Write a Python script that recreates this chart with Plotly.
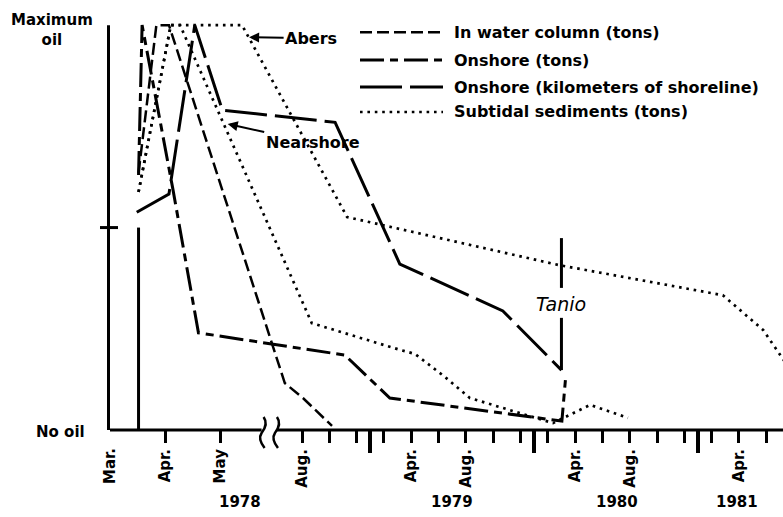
import calendar
import plotly.graph_objects as go

# relative amount of oil, 0 = no oil, 1 = maximum oil
water_dates = ["1978-03-17", "1978-03-27", "1978-04-03", "1978-06-23", "1978-08-03", "1978-10-07"]
water_vals = [0.635, 1.0, 1.0, 0.116, 0.079, 0.01]

onshore_tons_dates = ["1978-03-17", "1978-03-19", "1978-04-05", "1978-04-19", "1978-11-05",
                      "1979-02-13", "1980-03-02", "1980-03-10"]
onshore_tons_vals = [0.63, 1.0, 0.598, 0.24, 0.185, 0.079, 0.022, 0.123]

onshore_km_dates = ["1978-03-16", "1978-04-03", "1978-04-17", "1978-05-02", "1978-10-14",
                    "1979-03-06", "1979-10-23", "1980-03-01"]
onshore_km_vals = [0.538, 0.583, 1.0, 0.79, 0.76, 0.41, 0.294, 0.148]

# subtidal sediments, two sites
abers_dates = ["1978-03-17", "1978-04-04", "1978-05-13", "1978-11-10", "1980-02-26",
               "1981-02-24", "1981-05-25", "1981-07-24"]
abers_vals = [0.588, 1.0, 1.0, 0.526, 0.407, 0.333, 0.247, 0.15]

nearshore_dates = ["1978-03-17", "1978-04-04", "1978-04-09", "1978-08-23", "1979-03-06",
                   "1979-04-09", "1979-06-15", "1979-08-10", "1980-02-12", "1980-03-11",
                   "1980-05-04", "1980-07-28"]
nearshore_vals = [0.588, 1.0, 1.0, 0.264, 0.198, 0.188, 0.131, 0.079, 0.017, 0.032, 0.062, 0.03]

# spill markers (Amoco Cadiz, then Tanio)
spill_date = "1978-03-17"
spill_vals = [0, 0.5]
tanio_date = "1980-03-01"
tanio_vals = [0.474, 0.351, None, 0.277, 0.148]

tick_dates = ["1978-04-01", "1978-05-01", "1978-08-01", "1978-10-01", "1978-12-01", "1979-02-01",
              "1979-04-01", "1979-06-01", "1979-08-01", "1979-10-01", "1979-12-01", "1980-02-01",
              "1980-04-01", "1980-06-01", "1980-08-01", "1980-10-01", "1980-12-01", "1981-02-01",
              "1981-04-01", "1981-06-01"]
tick_labels = ["Apr.", "May", "Aug.", "", "", "", "Apr.", "", "Aug.", "", "", "",
               "Apr.", "", "Aug.", "", "", "", "Apr.", ""]
year_starts = ["1979-01-01", "1980-01-01", "1981-01-01"]
years = ["1978", "1979", "1980", "1981"]
year_label_dates = ["1978-05-12", "1979-07-01", "1980-07-03", "1981-03-28"]

legend_labels = ["In water column (tons)", "Onshore (tons)",
                 "Onshore (kilometers of shoreline)", "Subtidal sediments (tons)"]

# line styles
WATER = dict(dash="12px,5px", width=2.5)
TONS = dict(dash="24px,6px,8px,6px", width=3)
KM = dict(dash="42px,8px", width=3)
SUB = dict(dash="2.6px,4.8px", width=2.7)
legend_styles = [WATER, TONS, KM, SUB]


# broken time axis: Mar-May 1978 stretched, then one unit per month
PRE_SCALE = 4.05
BREAK_START, BREAK_END = 2.75, 3.16
AUG_POS = 14.07
U_MAX = 49.3
PLOT_W, PLOT_H = 673, 417


def months_since_start(d):
    y, m, day = map(int, d.split("-"))
    return (y - 1978) * 12 + (m - 3) + (day - 1) / calendar.monthrange(y, m)[1]


def axis_pos(d):
    t = months_since_start(d)
    if t <= BREAK_START:
        return PRE_SCALE * t
    if t >= BREAK_END:
        return AUG_POS + (t - 5)
    a = PRE_SCALE * BREAK_START
    b = AUG_POS + BREAK_END - 5
    return a + (t - BREAK_START) / (BREAK_END - BREAK_START) * (b - a)


def xs(dates):
    return [axis_pos(d) for d in dates]


FONT = dict(family="DejaVu Sans", size=15, color="black", weight="bold")
BIG_FONT = dict(FONT, size=16)

fig = go.Figure()

series = [
    (water_dates, water_vals, WATER),
    (onshore_tons_dates, onshore_tons_vals, TONS),
    (onshore_km_dates, onshore_km_vals, KM),
    (abers_dates, abers_vals, SUB),
    (nearshore_dates, nearshore_vals, SUB),
]
for dates, vals, style in series:
    fig.add_trace(go.Scatter(x=xs(dates), y=vals, mode="lines",
                             line=dict(color="black", **style), hoverinfo="skip"))

fig.add_trace(go.Scatter(x=xs([spill_date] * 2), y=spill_vals, mode="lines",
                         line=dict(color="black", width=3), hoverinfo="skip"))
fig.add_trace(go.Scatter(x=xs([tanio_date] * len(tanio_vals)), y=tanio_vals, mode="lines",
                         line=dict(color="black", width=3), connectgaps=False, hoverinfo="skip"))

shapes = []
# axes drawn by hand because of the break
bx1 = axis_pos("1978-05-24") / U_MAX
bx2 = (AUG_POS + BREAK_END - 5) / U_MAX
shapes.append(dict(type="line", xref="paper", yref="paper", x0=0, x1=bx1, y0=0, y1=0,
                   line=dict(color="black", width=3)))
shapes.append(dict(type="line", xref="paper", yref="paper", x0=bx2, x1=1, y0=0, y1=0,
                   line=dict(color="black", width=3)))
shapes.append(dict(type="line", xref="paper", yref="y", x0=-1.5 / PLOT_W, x1=-1.5 / PLOT_W,
                   y0=0, y1=1, line=dict(color="black", width=3)))
shapes.append(dict(type="line", xref="paper", yref="y", x0=-10 / PLOT_W, x1=8 / PLOT_W,
                   y0=0.5, y1=0.5, line=dict(color="black", width=3)))

# break marks
for cx in (bx1 + 1 / PLOT_W, bx2 - 1 / PLOT_W):
    pts = [(1, 13), (6, 6), (-1, -3), (-5, -9), (2, -18)]
    p = [(cx + dx / PLOT_W, dy / PLOT_H) for dx, dy in pts]
    path = "M {},{} Q {},{} {},{} Q {},{} {},{}".format(
        p[0][0], p[0][1], p[1][0], p[1][1], p[2][0], p[2][1], p[3][0], p[3][1], p[4][0], p[4][1])
    shapes.append(dict(type="path", xref="paper", yref="paper", path=path,
                       line=dict(color="black", width=2.5)))

# legend samples
legend_y = [0.954, 0.887, 0.8225, 0.7626]
lx0, lx1, ltext = 250 / PLOT_W, 333 / PLOT_W, 342 / PLOT_W
annotations = []
for lab, style, y in zip(legend_labels, legend_styles, legend_y):
    shapes.append(dict(type="line", xref="paper", yref="paper", x0=lx0, x1=lx1, y0=y, y1=y,
                       line=dict(color="black", width=style["width"], dash=style["dash"])))
    annotations.append(dict(xref="paper", yref="paper", x=ltext, y=y, text=lab,
                            showarrow=False, xanchor="left", yanchor="middle", font=BIG_FONT))

annotations += [
    dict(xref="paper", yref="paper", x=-58 / PLOT_W, y=1.01, text="Maximum<br>oil",
         showarrow=False, xanchor="center", yanchor="top", font=FONT),
    dict(xref="paper", yref="paper", x=-50 / PLOT_W, y=-2 / PLOT_H, text="No oil",
         showarrow=False, xanchor="center", yanchor="middle", font=FONT),
    dict(xref="x", yref="paper", x=0, y=-16 / PLOT_H, text="Mar.", textangle=-90,
         showarrow=False, xanchor="center", yanchor="top", font=FONT),
    dict(xref="x", yref="y", x=axis_pos(tanio_date), y=0.311, text="<i>Tanio</i>",
         showarrow=False, font=dict(family="DejaVu Sans", size=19, color="black")),
    dict(xref="x", yref="y", x=axis_pos("1978-05-17"), y=0.97, text="Abers",
         ax=62, ay=1, showarrow=True, arrowhead=2, arrowsize=1, arrowwidth=2,
         arrowcolor="black", font=BIG_FONT),
    dict(xref="x", yref="y", x=axis_pos("1978-05-05"), y=0.756, text="Nearshore",
         ax=85, ay=19, showarrow=True, arrowhead=2, arrowsize=1, arrowwidth=2,
         arrowcolor="black", font=BIG_FONT),
]
for yr, d in zip(years, year_label_dates):
    annotations.append(dict(xref="x", yref="paper", x=axis_pos(d), y=-72 / PLOT_H, text=yr,
                            showarrow=False, xanchor="center", yanchor="middle", font=FONT))

fig.update_xaxes(
    range=[0, U_MAX],
    tickmode="array",
    tickvals=xs(tick_dates),
    ticktext=tick_labels,
    tickangle=-90,
    ticks="outside",
    ticklen=12,
    tickwidth=2.5,
    tickcolor="black",
    tickfont=FONT,
    minor=dict(tickmode="array", tickvals=xs(year_starts), ticks="outside",
               ticklen=22, tickwidth=3.5, tickcolor="black"),
    showgrid=False,
    zeroline=False,
    showline=False,
)
fig.update_yaxes(range=[0, 1.03], showticklabels=False, ticks="", showgrid=False,
                 zeroline=False, showline=False)

fig.update_layout(
    width=783,
    height=517,
    autosize=False,
    margin=dict(l=110, r=0, t=13, b=87),
    plot_bgcolor="white",
    paper_bgcolor="white",
    showlegend=False,
    shapes=shapes,
    annotations=annotations,
)

# the page's default body margin would shift the 783x517 figure
fig.write_html("out.html", config={"displayModeBar": False},
               post_script="document.body.style.margin = '0';")
